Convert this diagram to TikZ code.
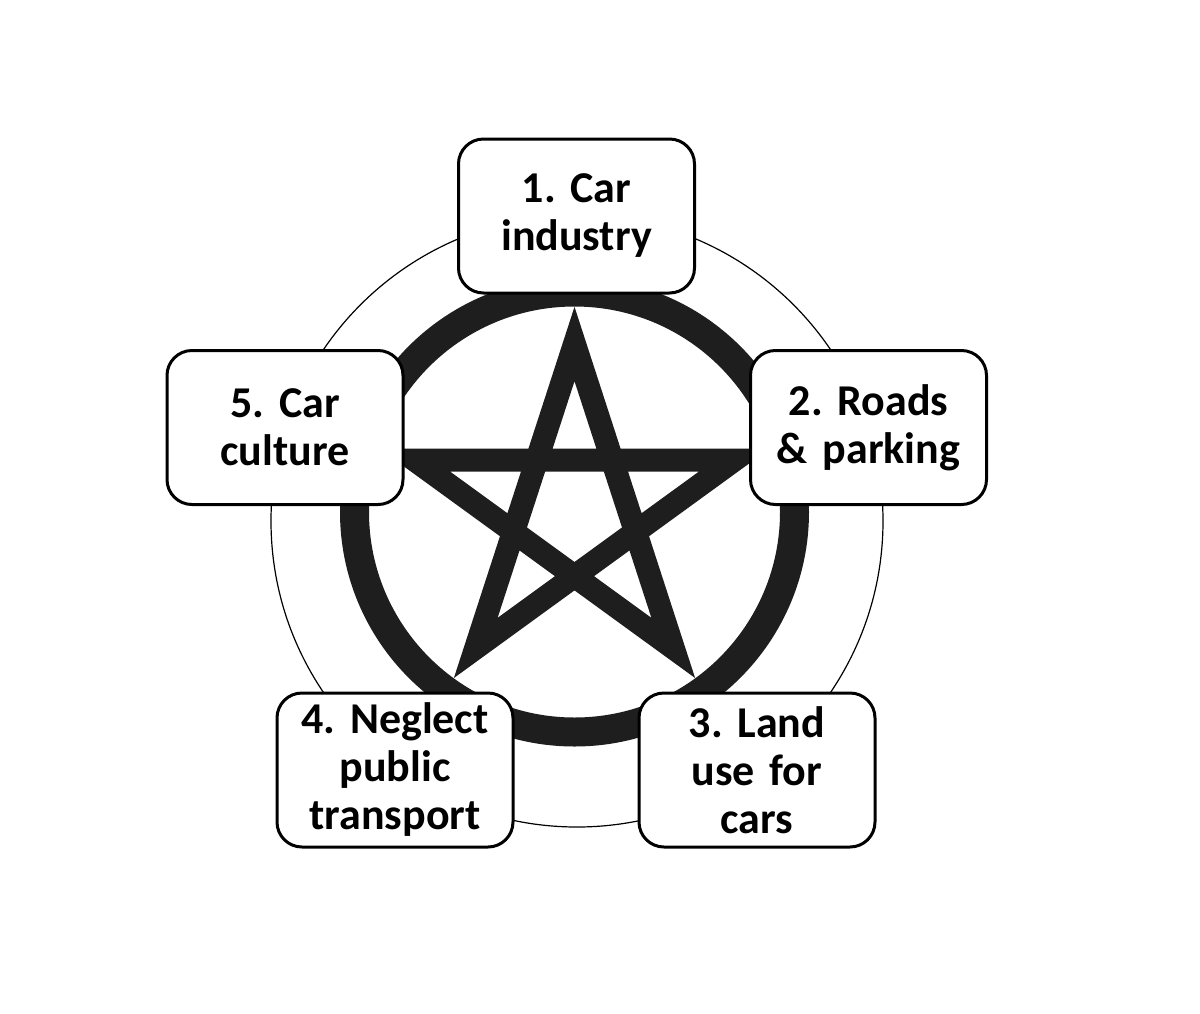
\documentclass[tikz,border=0pt]{standalone}
\usepackage{fontspec}
\setmainfont{Carlito}
\usetikzlibrary{calc}
\definecolor{ink}{RGB}{30,30,30}
\frenchspacing
\newcommand{\boxfont}{\fontsize{44}{48}\selectfont\bfseries\spaceskip=7pt\xspaceskip=7pt\frenchspacing}
\begin{document}
\begin{tikzpicture}[x=1pt,y=-1pt,
  boxnode/.style={draw=black,fill=white,line width=3pt,rounded corners=25pt,
    minimum width=236pt,minimum height=154pt,inner sep=0pt,text width=232pt,
    align=center,font=\boxfont},
  ringline/.style={draw=ink,line width=29pt},
  starline/.style={draw=ink,line width=23pt,line join=miter},
  thinline/.style={draw=black,line width=1.2pt}]
\useasboundingbox (0,0) rectangle (1200,1013);
\fill[white] (0,0) rectangle (1200,1013);
\coordinate (O) at (577,521);
\coordinate (C) at (574.5,512);
\draw[thinline] (O) circle[radius=306pt];
\draw[ringline] (C) circle[radius=220pt];
\coordinate (p1) at ($(C)+(-90:168)$);
\coordinate (p2) at ($(C)+(-18:168)$);
\coordinate (p3) at ($(C)+(54:168)$);
\coordinate (p4) at ($(C)+(126:168)$);
\coordinate (p5) at ($(C)+(198:168)$);
\draw[starline] (p1) -- (p3) -- (p5) -- (p2) -- (p4) -- cycle;
\node[boxnode] (b1) at (576.5,216) {1. Car\\industry};
\node[boxnode] (b2) at (868.5,427.5) {2. Roads\\\& parking};
\node[boxnode] (b3) at (757,770) {3. Land\\use for\\cars};
\node[boxnode] (b4) at (395,770) {4. Neglect\\public\\transport};
\node[boxnode] (b5) at (285,427.5) {5. Car\\culture};
\end{tikzpicture}
\end{document}
